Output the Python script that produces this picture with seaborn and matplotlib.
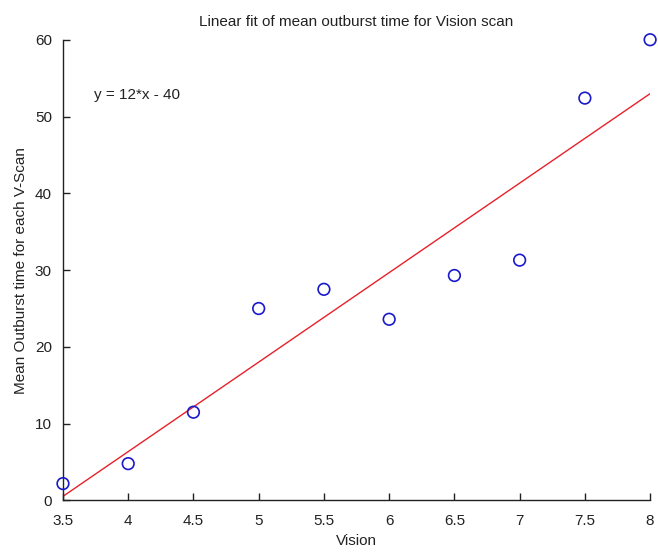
import numpy as np
import pandas as pd
import matplotlib
matplotlib.use("Agg")
import matplotlib.pyplot as plt
import seaborn as sns

# Vision scan level and mean outburst time per V-Scan
vision = [3.5, 4.0, 4.5, 5.0, 5.5, 6.0, 6.5, 7.0, 7.5, 8.0]
outburst = [2.2, 4.8, 11.5, 25.0, 27.5, 23.6, 29.3, 31.3, 52.4, 60.0]
x_ticks = [3.5, 4, 4.5, 5, 5.5, 6, 6.5, 7, 7.5, 8]
y_ticks = [0, 10, 20, 30, 40, 50, 60]
fit_label = "y = 12*x - 40"

df = pd.DataFrame({"Vision": vision, "Outburst": outburst})

sns.set_style("white")
plt.rcParams["font.family"] = ["Liberation Sans", "DejaVu Sans"]

fig = plt.figure(figsize=(6.58, 5.52), dpi=100)
ax = fig.add_axes([0.0957, 0.0933, 0.8923, 0.8347])

# least-squares fit line over the data range
sns.regplot(data=df, x="Vision", y="Outburst", scatter=False, ci=None,
            color="#e8202a", line_kws={"linewidth": 1.0}, ax=ax)
sns.scatterplot(data=df, x="Vision", y="Outburst", marker="o", s=70,
                facecolors="none", edgecolor="#1a1acc", linewidth=1.2,
                zorder=3, ax=ax, clip_on=False)

ax.set_xlim(3.5, 8)
ax.set_ylim(0, 60)
ax.set_xticks(x_ticks)
ax.set_xticklabels([f"{t:g}" for t in x_ticks])
ax.set_yticks(y_ticks)

for side in ("top", "right"):
    ax.spines[side].set_visible(False)
for side in ("left", "bottom"):
    ax.spines[side].set_color("#222222")
    ax.spines[side].set_linewidth(1.0)

ax.tick_params(direction="in", length=5, width=1, colors="#222222",
               labelsize=11, labelcolor="#222222",
               left=True, bottom=True)
ax.tick_params(axis="x", pad=10)
ax.tick_params(axis="y", pad=8)

ax.set_xlabel("Vision", fontsize=11, color="#222222", labelpad=4)
ax.set_ylabel("Mean Outburst time for each V-Scan", fontsize=11,
              color="#222222", labelpad=5)
ax.set_title("Linear fit of mean outburst time for Vision scan",
             fontsize=11, color="#222222", pad=10)

ax.text(3.74, 52.8, fit_label, fontsize=11, color="#222222",
        va="center", ha="left")

fig.savefig("out.png", dpi=100)
